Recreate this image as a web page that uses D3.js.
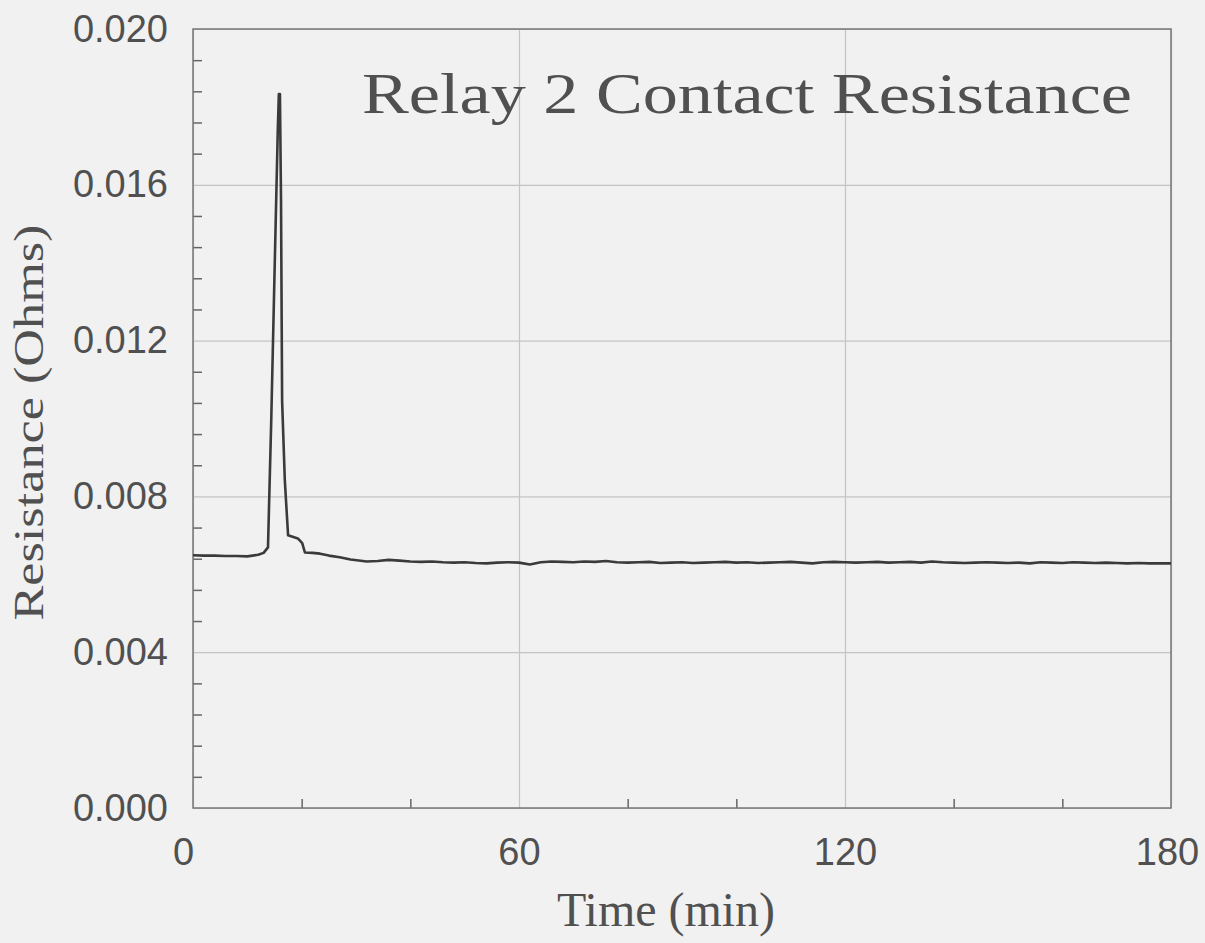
<!DOCTYPE html>
<html lang="en">

<head>
    <meta charset="UTF-8">
    <title>Relay 2 Contact Resistance</title>
    <style>
        body { margin: 0; background: #f1f1f1; }
    </style>
</head>

<body>

    <div id="my_dataviz"></div>

    <script src="https://d3js.org/d3.v7.min.js"></script>

    <script type="text/javascript">

        // time in minutes
        var times = [0, 2, 4, 6, 8, 10, 12, 13, 13.8, 14.4, 15.1, 15.6, 15.8, 16.0, 16.2, 16.4, 16.9, 17.5,
            19.3, 20.1, 20.6, 22, 23.4, 25, 27, 29,
            32, 34, 36, 38, 40, 42, 44, 46, 48, 50, 52, 54, 56, 58, 60, 62, 64, 66, 68, 70, 72, 74, 76, 78,
            80, 82, 84, 86, 88, 90, 92, 94, 96, 98, 100, 102, 104, 106, 108, 110, 112, 114, 116, 118, 120,
            122, 124, 126, 128, 130, 132, 134, 136, 138, 140, 142, 144, 146, 148, 150, 152, 154, 156, 158,
            160, 162, 164, 166, 168, 170, 172, 174, 176, 178, 180];

        // resistance in ohms
        var resistance = [0.00649, 0.00648, 0.00648, 0.00647, 0.00647, 0.00646, 0.00650, 0.00655,
            0.00669, 0.00995, 0.01431, 0.01738, 0.01833, 0.01833, 0.01559, 0.01046, 0.00841, 0.00700,
            0.00692, 0.00680, 0.00656, 0.00655, 0.00653, 0.00648, 0.00644, 0.00638,
            0.00633, 0.00634, 0.00637, 0.00635, 0.00633, 0.00632, 0.00633, 0.00631, 0.00630, 0.00631,
            0.00629, 0.00628, 0.00630, 0.00631, 0.00630, 0.00625, 0.00631, 0.00633, 0.00632, 0.00631,
            0.00633, 0.00632, 0.00634, 0.00631, 0.00630, 0.00631, 0.00632, 0.00629, 0.00630, 0.00631,
            0.00629, 0.00630, 0.00631, 0.00632, 0.00630, 0.00631, 0.00629, 0.00630, 0.00631, 0.00632,
            0.00630, 0.00628, 0.00631, 0.00632, 0.00631, 0.00630, 0.00631, 0.00632, 0.00630, 0.00631,
            0.00632, 0.00630, 0.00633, 0.00631, 0.00630, 0.00629, 0.00630, 0.00631, 0.00630, 0.00629,
            0.00630, 0.00628, 0.00631, 0.00630, 0.00629, 0.00631, 0.00630, 0.00629, 0.00630, 0.00629,
            0.00628, 0.00629, 0.00628, 0.00628, 0.00628];

        var xTicks = [0, 60, 120, 180];
        var xMinorTicks = [20, 40, 80, 100, 140, 160];
        var yTicks = [0.000, 0.004, 0.008, 0.012, 0.016, 0.020];
        var yMinorTicks = [0.0008, 0.0016, 0.0024, 0.0032, 0.0048, 0.0056, 0.0064, 0.0072,
            0.0088, 0.0096, 0.0104, 0.0112, 0.0128, 0.0136, 0.0144, 0.0152, 0.0168, 0.0176, 0.0184, 0.0192];

        var title = "Relay 2 Contact Resistance";
        var xLabel = "Time (min)";
        var yLabel = "Resistance (Ohms)";

        var data = times.map(function (t, i) { return [t, resistance[i]]; });

        var margin = { top: 29, right: 34, bottom: 135, left: 193 },
            width = 1205 - margin.left - margin.right,
            height = 943 - margin.top - margin.bottom;

        var svg = d3.select("#my_dataviz")
            .append("svg")
            .attr("width", 1205)
            .attr("height", 943)
            .style("display", "block")
            .append("g")
            .attr("transform", "translate(" + margin.left + "," + margin.top + ")");

        var x = d3.scaleLinear().domain([0, 180]).range([0, width]);
        var y = d3.scaleLinear().domain([0, 0.020]).range([height, 0]);

        // grid lines
        var xGrid = d3.axisBottom(x)
            .tickValues(xTicks)
            .tickFormat('')
            .tickSizeInner(-height)
            .tickSizeOuter(0);

        var yGrid = d3.axisLeft(y)
            .tickValues(yTicks)
            .tickFormat('')
            .tickSizeInner(-width)
            .tickSizeOuter(0);

        svg.append('g')
            .attr('class', 'x-grid')
            .attr('transform', 'translate(0,' + height + ')')
            .call(xGrid)
            .call(function (g) { g.select('.domain').remove(); })
            .selectAll('line')
            .attr('stroke', '#c4c4c4')
            .attr('stroke-width', 1.2);

        svg.append('g')
            .attr('class', 'y-grid')
            .call(yGrid)
            .call(function (g) { g.select('.domain').remove(); })
            .selectAll('line')
            .attr('stroke', '#c4c4c4')
            .attr('stroke-width', 1.2);

        // minor ticks, pointing inward
        var xMinor = d3.axisBottom(x).tickValues(xMinorTicks).tickFormat('').tickSizeInner(-9).tickSizeOuter(0);
        var yMinor = d3.axisLeft(y).tickValues(yMinorTicks).tickFormat('').tickSizeInner(-9).tickSizeOuter(0);

        svg.append('g')
            .attr('transform', 'translate(0,' + height + ')')
            .call(xMinor)
            .call(function (g) { g.select('.domain').remove(); })
            .selectAll('line')
            .attr('stroke', '#666')
            .attr('stroke-width', 1.5);

        svg.append('g')
            .call(yMinor)
            .call(function (g) { g.select('.domain').remove(); })
            .selectAll('line')
            .attr('stroke', '#666')
            .attr('stroke-width', 1.5);

        // frame
        svg.append('rect')
            .attr('x', 0)
            .attr('y', 0)
            .attr('width', width)
            .attr('height', height)
            .attr('fill', 'none')
            .attr('stroke', '#777')
            .attr('stroke-width', 1.5);

        // tick labels
        var xAxis = d3.axisBottom(x).tickValues(xTicks).tickFormat(d3.format('d')).tickSize(0).tickPadding(30);
        var yAxis = d3.axisLeft(y).tickValues(yTicks).tickFormat(d3.format('.3f')).tickSize(0).tickPadding(25);

        svg.append('g')
            .attr('transform', 'translate(0,' + height + ')')
            .call(xAxis)
            .call(function (g) { g.select('.domain').remove(); })
            .selectAll('text')
            .attr('fill', '#505050')
            .attr('dx', function (d) { return d === 0 ? -10 : (d === 180 ? -4 : 0); })
            .style('font-family', '"Liberation Sans", Arial, sans-serif')
            .style('font-size', '38px');

        svg.append('g')
            .call(yAxis)
            .call(function (g) { g.select('.domain').remove(); })
            .selectAll('text')
            .attr('fill', '#505050')
            .style('font-family', '"Liberation Sans", Arial, sans-serif')
            .style('font-size', '38px');

        // data line
        svg.append('path')
            .datum(data)
            .attr('fill', 'none')
            .attr('stroke', '#3a3a3a')
            .attr('stroke-width', 2.6)
            .attr('stroke-linejoin', 'round')
            .attr('d', d3.line()
                .x(function (d) { return x(d[0]); })
                .y(function (d) { return y(d[1]); })
            );

        // title inside the plot
        svg.append('text')
            .attr('x', 169)
            .attr('y', 84)
            .attr('fill', '#505050')
            .attr('textLength', 770)
            .attr('lengthAdjust', 'spacingAndGlyphs')
            .style('font-family', '"Liberation Serif", "Times New Roman", serif')
            .style('font-size', '57px')
            .text(title);

        // axis titles
        svg.append('text')
            .attr('x', x(90) - 16)
            .attr('y', height + 118)
            .attr('text-anchor', 'middle')
            .attr('fill', '#505050')
            .attr('textLength', 218)
            .attr('lengthAdjust', 'spacingAndGlyphs')
            .style('font-family', '"Liberation Serif", "Times New Roman", serif')
            .style('font-size', '48px')
            .text(xLabel);

        svg.append('text')
            .attr('transform', 'translate(' + (-150) + ',' + (y(0.01) + 4) + ') rotate(-90)')
            .attr('text-anchor', 'middle')
            .attr('fill', '#505050')
            .attr('textLength', 396)
            .attr('lengthAdjust', 'spacingAndGlyphs')
            .style('font-family', '"Liberation Serif", "Times New Roman", serif')
            .style('font-size', '42px')
            .text(yLabel);

    </script>

</body>

</html>
